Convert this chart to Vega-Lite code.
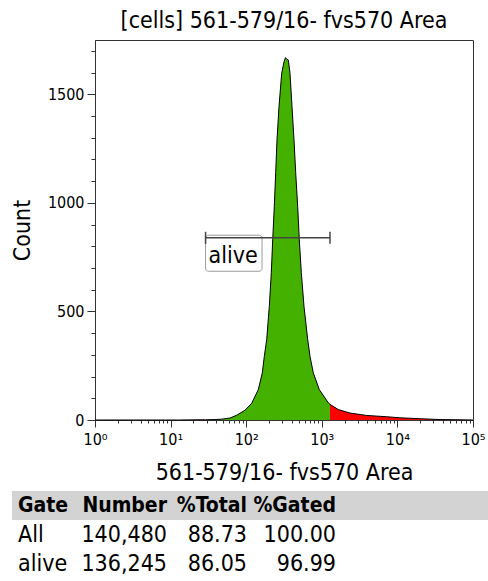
{
  "$schema": "https://vega.github.io/schema/vega-lite/v6.json",
  "width": 378,
  "height": 380,
  "autosize": "none",
  "padding": {"left": 95, "top": 40, "right": 15, "bottom": 161},
  "config": {
    "font": "DejaVu Sans Condensed, DejaVu Sans",
    "view": {"stroke": "#333", "strokeWidth": 1},
    "axis": {
      "grid": false, "domainColor": "#333", "tickColor": "#333",
      "labelColor": "#000", "titleColor": "#000",
      "labelFont": "DejaVu Sans Condensed, DejaVu Sans", "titleFont": "DejaVu Sans Condensed, DejaVu Sans",
      "labelFontSize": 16, "titleFontSize": 23, "titleFontWeight": "normal"
    },
    "text": {"font": "DejaVu Sans Condensed, DejaVu Sans"}
  },
  "title": {"text": "[cells] 561-579/16- fvs570 Area", "fontSize": 23, "fontWeight": "normal", "color": "#000", "offset": 7, "anchor": "middle", "font": "DejaVu Sans Condensed, DejaVu Sans"},
  "datasets": {
    "hist": [
      {"v": 1, "count": 0, "gate": "below"},
      {"v": 5, "count": 0, "gate": "below"},
      {"v": 13, "count": 0, "gate": "below"},
      {"v": 24.5, "count": 1, "gate": "below"},
      {"v": 29, "count": 1, "gate": "below"},
      {"v": 29, "count": 1, "gate": "alive"},
      {"v": 38.6, "count": 2, "gate": "alive"},
      {"v": 47.8, "count": 4, "gate": "alive"},
      {"v": 61.1, "count": 9, "gate": "alive"},
      {"v": 74.9, "count": 22, "gate": "alive"},
      {"v": 96.4, "count": 45, "gate": "alive"},
      {"v": 118.2, "count": 77, "gate": "alive"},
      {"v": 144.6, "count": 140, "gate": "alive"},
      {"v": 163.3, "count": 217, "gate": "alive"},
      {"v": 173.6, "count": 293, "gate": "alive"},
      {"v": 186.7, "count": 370, "gate": "alive"},
      {"v": 202.1, "count": 523, "gate": "alive"},
      {"v": 214.8, "count": 679, "gate": "alive"},
      {"v": 224.2, "count": 830, "gate": "alive"},
      {"v": 235.3, "count": 983, "gate": "alive"},
      {"v": 245.6, "count": 1139, "gate": "alive"},
      {"v": 255.5, "count": 1290, "gate": "alive"},
      {"v": 271.6, "count": 1443, "gate": "alive"},
      {"v": 294.8, "count": 1597, "gate": "alive"},
      {"v": 316.2, "count": 1649, "gate": "alive"},
      {"v": 331.1, "count": 1669, "gate": "alive"},
      {"v": 341.4, "count": 1663, "gate": "alive"},
      {"v": 360.5, "count": 1658, "gate": "alive"},
      {"v": 379.7, "count": 1597, "gate": "alive"},
      {"v": 403.5, "count": 1443, "gate": "alive"},
      {"v": 428.9, "count": 1290, "gate": "alive"},
      {"v": 451.6, "count": 1139, "gate": "alive"},
      {"v": 480, "count": 983, "gate": "alive"},
      {"v": 504, "count": 830, "gate": "alive"},
      {"v": 535.6, "count": 679, "gate": "alive"},
      {"v": 581.6, "count": 523, "gate": "alive"},
      {"v": 651.1, "count": 370, "gate": "alive"},
      {"v": 698.2, "count": 293, "gate": "alive"},
      {"v": 772, "count": 217, "gate": "alive"},
      {"v": 926.7, "count": 140, "gate": "alive"},
      {"v": 1219, "count": 79, "gate": "alive"},
      {"v": 1283, "count": 72, "gate": "alive"},
      {"v": 1283, "count": 72, "gate": "above"},
      {"v": 1653, "count": 48, "gate": "above"},
      {"v": 2361, "count": 32, "gate": "above"},
      {"v": 3926, "count": 21, "gate": "above"},
      {"v": 7220, "count": 15, "gate": "above"},
      {"v": 10824, "count": 10, "gate": "above"},
      {"v": 19905, "count": 6, "gate": "above"},
      {"v": 36600, "count": 2, "gate": "above"},
      {"v": 67300, "count": 1, "gate": "above"},
      {"v": 100000, "count": 0, "gate": "above"}
    ],
    "gates": [{"gate": "alive", "lo": 29, "hi": 1283, "level": 839}],
    "header": [{"Gate": "Gate", "Number": "Number", "Total": "%Total", "Gated": "%Gated"}],
    "table": [
      {"Gate": "All", "Number": 140480, "Total": 88.73, "Gated": 100.00},
      {"Gate": "alive", "Number": 136245, "Total": 86.05, "Gated": 96.99}
    ]
  },
  "resolve": {"scale": {"x": "independent", "y": "independent"}},
  "layer": [
    {
      "resolve": {"axis": {"x": "independent", "y": "independent"}},
      "layer": [
        {
          "data": {"name": "hist"},
          "mark": {"type": "area", "interpolate": "linear"},
          "encoding": {
            "x": {"field": "v", "type": "quantitative",
              "scale": {"type": "log", "domain": [1, 100000], "nice": false},
              "axis": {"orient": "bottom", "values": [1, 10, 100, 1000, 10000, 100000],
                "labelExpr": "'10' + ['⁰','¹','²','³','⁴','⁵'][round(log(datum.value)/LN10)]",
                "tickSize": 7, "labelPadding": 4, "labelFlush": false, "labelOverlap": false,
                "title": "561-579/16- fvs570 Area", "titlePadding": 14}},
            "y": {"field": "count", "type": "quantitative", "stack": null,
              "scale": {"domain": [0, 1750], "nice": false},
              "axis": {"orient": "left", "values": [0, 500, 1000, 1500], "format": "d", "tickSize": 8,
                "labelPadding": 3, "title": "Count", "titlePadding": 13}},
            "color": {"field": "gate", "type": "nominal",
              "scale": {"domain": ["below", "alive", "above"], "range": ["#ff0000", "#44b000", "#ff0000"]},
              "legend": null}
          }
        },
        {
          "data": {"name": "hist"},
          "mark": {"type": "line", "color": "#000", "strokeWidth": 1, "interpolate": "linear"},
          "encoding": {
            "x": {"field": "v", "type": "quantitative",
              "axis": {"orient": "bottom", "values": [2,3,4,5,6,7,8,9,20,30,40,50,60,70,80,90,200,300,400,500,600,700,800,900,2000,3000,4000,5000,6000,7000,8000,9000,20000,30000,40000,50000,60000,70000,80000,90000],
                "labels": false, "domain": false, "tickSize": 3, "title": null}},
            "y": {"field": "count", "type": "quantitative",
              "axis": {"orient": "left", "values": [100,200,300,400,600,700,800,900,1100,1200,1300,1400,1600,1700],
                "labels": false, "domain": false, "tickSize": 4, "title": null}}
          }
        },
        {
          "data": {"name": "gates"},
          "mark": {"type": "rect", "fill": "#ffffff", "stroke": "#9a9a9a", "strokeWidth": 1, "cornerRadius": 3},
          "encoding": {
            "x": {"field": "lo", "type": "quantitative", "axis": null},
            "x2": {"datum": 162},
            "y": {"datum": 851, "type": "quantitative", "axis": null},
            "y2": {"datum": 685}
          }
        },
        {
          "data": {"name": "gates"},
          "mark": {"type": "rule", "color": "#444", "strokeWidth": 1.5},
          "encoding": {
            "x": {"field": "lo", "type": "quantitative", "axis": null},
            "x2": {"field": "hi"},
            "y": {"field": "level", "type": "quantitative", "axis": null}
          }
        },
        {
          "data": {"name": "gates"},
          "transform": [{"fold": ["lo", "hi"], "as": ["edge", "pos"]}],
          "mark": {"type": "tick", "orient": "vertical", "size": 12, "thickness": 1.5, "color": "#444", "opacity": 1},
          "encoding": {
            "x": {"field": "pos", "type": "quantitative", "axis": null},
            "y": {"field": "level", "type": "quantitative", "axis": null}
          }
        },
        {
          "data": {"name": "gates"},
          "mark": {"type": "text", "align": "left", "baseline": "middle", "dx": 3, "dy": 18, "fontSize": 23, "color": "#000"},
          "encoding": {
            "x": {"field": "lo", "type": "quantitative", "axis": null},
            "y": {"field": "level", "type": "quantitative", "axis": null},
            "text": {"field": "gate"}
          }
        }
      ]
    },
    {
      "layer": [
        {
          "data": {"name": "header"},
          "mark": {"type": "bar", "color": "#d3d3d3"},
          "encoding": {
            "x": {"datum": -1, "type": "quantitative", "axis": null,
              "scale": {"domain": [-1, 0, 1, 2, 3, 4], "range": [-83, -77, 72, 152, 241, 393], "nice": false, "zero": false}},
            "x2": {"datum": 4},
            "y": {"datum": "header", "type": "nominal", "axis": null,
              "scale": {"domain": ["header", "All", "alive"], "range": [451, 538], "paddingInner": 0, "paddingOuter": 0}}
          }
        },
        {
          "data": {"name": "header"},
          "mark": {"type": "text", "align": "left", "baseline": "middle", "fontSize": 21, "fontWeight": "bold", "color": "#000"},
          "encoding": {"x": {"datum": 0, "type": "quantitative"}, "y": {"datum": "header", "type": "nominal"}, "text": {"field": "Gate"}}
        },
        {
          "data": {"name": "header"},
          "mark": {"type": "text", "align": "right", "baseline": "middle", "fontSize": 21, "fontWeight": "bold", "color": "#000"},
          "encoding": {"x": {"datum": 1, "type": "quantitative"}, "y": {"datum": "header", "type": "nominal"}, "text": {"field": "Number"}}
        },
        {
          "data": {"name": "header"},
          "mark": {"type": "text", "align": "right", "baseline": "middle", "fontSize": 21, "fontWeight": "bold", "color": "#000"},
          "encoding": {"x": {"datum": 2, "type": "quantitative"}, "y": {"datum": "header", "type": "nominal"}, "text": {"field": "Total"}}
        },
        {
          "data": {"name": "header"},
          "mark": {"type": "text", "align": "right", "baseline": "middle", "fontSize": 21, "fontWeight": "bold", "color": "#000"},
          "encoding": {"x": {"datum": 3, "type": "quantitative"}, "y": {"datum": "header", "type": "nominal"}, "text": {"field": "Gated"}}
        },
        {
          "data": {"name": "table"},
          "mark": {"type": "text", "align": "left", "baseline": "middle", "fontSize": 23, "color": "#000"},
          "encoding": {"x": {"datum": 0, "type": "quantitative"}, "y": {"field": "Gate", "type": "nominal"}, "text": {"field": "Gate"}}
        },
        {
          "data": {"name": "table"},
          "mark": {"type": "text", "align": "right", "baseline": "middle", "fontSize": 23, "color": "#000"},
          "encoding": {"x": {"datum": 1, "type": "quantitative"}, "y": {"field": "Gate", "type": "nominal"}, "text": {"field": "Number", "type": "quantitative", "format": ","}}
        },
        {
          "data": {"name": "table"},
          "mark": {"type": "text", "align": "right", "baseline": "middle", "fontSize": 23, "color": "#000"},
          "encoding": {"x": {"datum": 2, "type": "quantitative"}, "y": {"field": "Gate", "type": "nominal"}, "text": {"field": "Total", "type": "quantitative", "format": ".2f"}}
        },
        {
          "data": {"name": "table"},
          "mark": {"type": "text", "align": "right", "baseline": "middle", "fontSize": 23, "color": "#000"},
          "encoding": {"x": {"datum": 3, "type": "quantitative"}, "y": {"field": "Gate", "type": "nominal"}, "text": {"field": "Gated", "type": "quantitative", "format": ".2f"}}
        }
      ]
    }
  ]
}
